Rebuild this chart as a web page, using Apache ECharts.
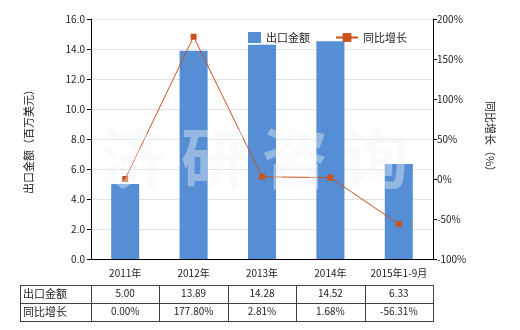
<!DOCTYPE html>
<html><head><meta charset="utf-8">
<script src="https://cdn.jsdelivr.net/npm/echarts@6/dist/echarts.min.js"></script>
<style>html,body{margin:0;padding:0;background:#fff}#c{width:520px;height:330px}</style>
</head><body><div id="c"></div>
<script>
var categories = ['2011年', '2012年', '2013年', '2014年', '2015年1-9月'];
var exportValues = [5.00, 13.89, 14.28, 14.52, 6.33];
var growthValues = [0.00, 177.80, 2.81, 1.68, -56.31];
var leftTicks = {min: 0, max: 16, interval: 2};
var rightTicks = {min: -100, max: 200, interval: 50};
var rowNames = ['出口金额', '同比增长'];

var FONT = '"Noto Sans CJK SC", "Noto Sans", sans-serif';
var chart = echarts.init(document.getElementById('c'), null, {renderer: 'canvas'});
var G = {left: 91, top: 19, right: 87, bottom: 71};
var txt = '#222';
var hiddenAxis = {axisLine: {show: false}, axisTick: {show: false}, splitLine: {show: false}};

var option = {
  animation: false,
  backgroundColor: '#fff',
  textStyle: {fontFamily: FONT},
  grid: {left: G.left, top: G.top, right: G.right, bottom: G.bottom, containLabel: false},
  legend: [
    {left: 243, top: 27, itemWidth: 13, itemHeight: 11,
     textStyle: {fontSize: 11, color: txt, fontFamily: FONT},
     data: [{name: '出口金额', icon: 'rect'}]},
    {left: 330, top: 27, itemWidth: 22, itemHeight: 11,
     textStyle: {fontSize: 11, color: txt, fontFamily: FONT},
     data: [{name: '同比增长'}]}
  ],
  xAxis: [
    {type: 'category', data: categories, position: 'bottom',
     axisLine: {lineStyle: {color: '#000'}}, axisTick: {show: false},
     axisLabel: {color: txt, fontSize: 10, margin: 9, interval: 0, fontFamily: FONT}},
    Object.assign({type: 'category', data: exportValues.map(function(v){return v.toFixed(2);}),
     position: 'bottom', offset: 21,
     axisLabel: {color: txt, fontSize: 10, margin: 8, interval: 0, fontFamily: FONT}}, hiddenAxis),
    Object.assign({type: 'category', data: growthValues.map(function(v){return v.toFixed(2) + '%';}),
     position: 'bottom', offset: 39,
     axisLabel: {color: txt, fontSize: 10, margin: 8, interval: 0, fontFamily: FONT}}, hiddenAxis)
  ],
  yAxis: [
    {type: 'value', position: 'left', min: leftTicks.min, max: leftTicks.max, interval: leftTicks.interval,
     name: '出口金额（百万美元）', nameLocation: 'middle', nameGap: 57, nameRotate: 90,
     nameTextStyle: {fontSize: 11, color: txt, fontFamily: FONT},
     axisLine: {show: true, lineStyle: {color: '#000'}},
     axisTick: {show: true, length: 4, lineStyle: {color: '#000'}},
     axisLabel: {color: txt, fontSize: 10, margin: 6, formatter: function(v){return v.toFixed(1);}},
     splitLine: {show: true, lineStyle: {color: '#E3E3E3'}}},
    {type: 'value', position: 'right', min: rightTicks.min, max: rightTicks.max, interval: rightTicks.interval,
     name: '同比增长（%）', nameLocation: 'middle', nameGap: 52, nameRotate: -90,
     nameTextStyle: {fontSize: 11, color: txt, fontFamily: FONT},
     axisLine: {show: true, lineStyle: {color: '#000'}},
     axisTick: {show: true, length: 4, lineStyle: {color: '#000'}},
     axisLabel: {color: txt, fontSize: 10, margin: 4, formatter: '{value}%'},
     splitLine: {show: false}}
  ],
  series: [
    {name: '出口金额', type: 'bar', xAxisIndex: 0, yAxisIndex: 0, data: exportValues,
     barWidth: '41%', itemStyle: {color: '#558ED5'}},
    {name: '同比增长', type: 'line', xAxisIndex: 0, yAxisIndex: 1, data: growthValues,
     symbol: 'rect', symbolSize: 6, lineStyle: {color: '#C9511C', width: 1},
     itemStyle: {color: '#C9511C'}, z: 5}
  ]
};
chart.setOption(option);

var gl = G.left, gr = 520 - G.right, colW = (gr - gl) / categories.length;
var tTop = 285, tMid = 303, tBot = 321, tLeft = 20;
var els = [];
var lc = {stroke: '#404040', lineWidth: 1};
function line(x1,y1,x2,y2){ els.push({type:'line', shape:{x1:x1,y1:y1,x2:x2,y2:y2}, style:lc, silent:true}); }
line(tLeft, tTop+0.5, gr, tTop+0.5);
line(tLeft, tMid+0.5, gr, tMid+0.5);
line(tLeft, tBot+0.5, gr, tBot+0.5);
line(tLeft+0.5, tTop, tLeft+0.5, tBot+1);
for (var i = 0; i <= categories.length; i++) {
  var x = Math.round(gl + i * colW) + 0.5;
  line(x, tTop, x, tBot+1);
}
rowNames.forEach(function(n, k){
  els.push({type:'text', left: tLeft + 3, top: (k === 0 ? tTop : tMid) + 3,
    style:{text: n, fill: txt, font: '11px ' + FONT}, silent: true});
});
els.push({type:'text', left: 100, top: 125, z: 10, silent: true,
  style:{text: '济 研 咨 询', fill: 'rgba(238,242,247,0.42)', font: 'bold 66px ' + FONT}});
chart.setOption({graphic: els});
</script></body></html>
